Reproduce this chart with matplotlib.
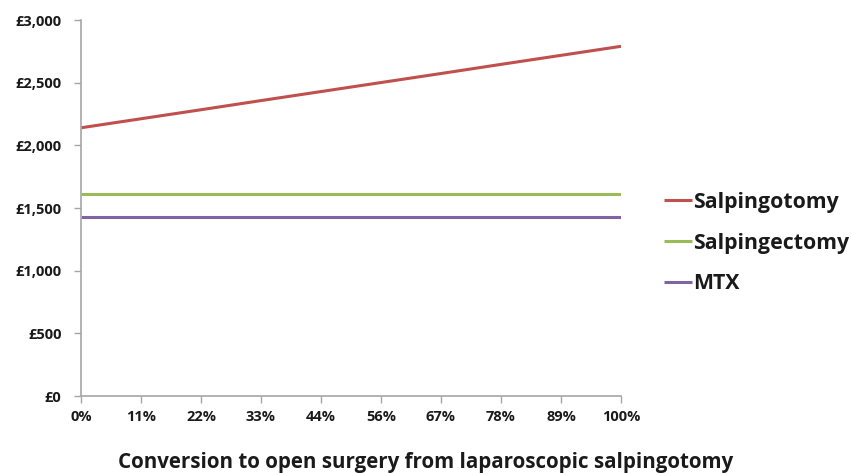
import matplotlib
matplotlib.use("Agg")
import matplotlib.pyplot as plt
from matplotlib.ticker import FuncFormatter

categories = ["0%", "11%", "22%", "33%", "44%", "56%", "67%", "78%", "89%", "100%"]
salpingotomy = [2140, 2212, 2284, 2357, 2429, 2501, 2573, 2646, 2718, 2790]
salpingectomy = [1610, 1610, 1610, 1610, 1610, 1610, 1610, 1610, 1610, 1610]
mtx = [1430, 1430, 1430, 1430, 1430, 1430, 1430, 1430, 1430, 1430]
series_names = ["Salpingotomy", "Salpingectomy", "MTX"]
colors = ["#C0504D", "#9BBB59", "#8064A2"]
xlabel = "Conversion to open surgery from laparoscopic salpingotomy"

plt.rcParams['font.family'] = ['Open Sans', 'DejaVu Sans']

fig = plt.figure(figsize=(8.51, 4.73), dpi=100)
ax = fig.add_axes([81/851, 1-396/473, 540/851, 376/473])

x = list(range(len(categories)))
for vals, name, c in zip([salpingotomy, salpingectomy, mtx], series_names, colors):
    ax.plot(x, vals, color=c, lw=2.2, label=name, solid_capstyle='butt')

ax.set_xlim(0, len(categories) - 1)
ax.set_ylim(0, 3000)
ax.set_yticks(range(0, 3001, 500))
ax.yaxis.set_major_formatter(FuncFormatter(lambda v, p: f"£{int(v):,}"))
ax.set_xticks(x)
ax.set_xticklabels(categories)

for s in ["top", "right"]:
    ax.spines[s].set_visible(False)
for s in ["left", "bottom"]:
    ax.spines[s].set_color("#A6A6A6")
    ax.spines[s].set_linewidth(1.2)
ax.tick_params(axis="both", colors="#A6A6A6", length=5, width=1, direction="out",
               labelcolor="#1a1a1a", labelsize=10.5)
for lab in ax.get_xticklabels() + ax.get_yticklabels():
    lab.set_fontweight("bold")
ax.tick_params(axis="x", pad=5)
ax.tick_params(axis="y", pad=9)

ax.set_xlabel(xlabel, fontsize=14.8, fontweight="bold", color="#1a1a1a")
ax.xaxis.set_label_coords((425.5 - 81) / 540, -(462 - 396) / 376)
ax.xaxis.label.set_va("center")

leg = ax.legend(loc="center left", bbox_to_anchor=((664 - 81) / 540, (396 - 243) / 376),
                frameon=False, prop={"size": 15.3, "weight": "bold"}, handlelength=1.3,
                handletextpad=0.05, labelspacing=0.93, borderaxespad=0, borderpad=0)
for t in leg.get_texts():
    t.set_color("#1a1a1a")

fig.savefig("out.png", dpi=100, facecolor="white")
